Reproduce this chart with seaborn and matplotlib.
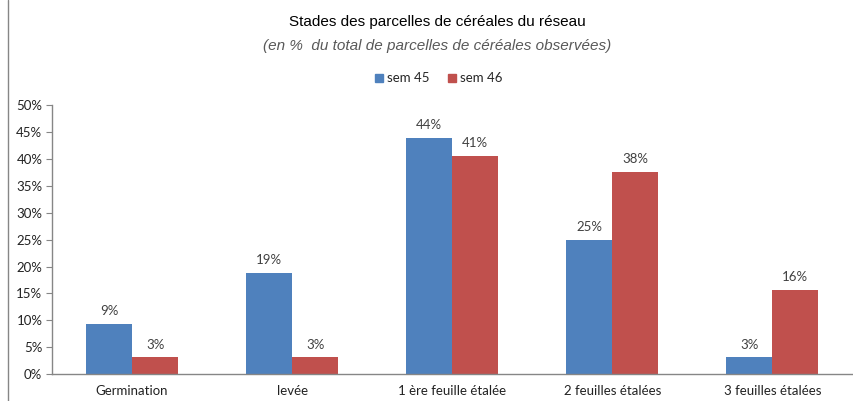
import pandas as pd
import matplotlib.pyplot as plt
import seaborn as sns
from matplotlib.lines import Line2D

# Data
stades = ['Germination', 'levée', '1 ère feuille étalée', '2 feuilles étalées', '3 feuilles étalées']
sem45 = [9.3, 18.8, 43.9, 24.9, 3.1]
sem46 = [3.1, 3.1, 40.6, 37.5, 15.6]
labels45 = ['9%', '19%', '44%', '25%', '3%']
labels46 = ['3%', '3%', '41%', '38%', '16%']
series = ['sem 45', 'sem 46']

df = pd.DataFrame({
    'stade': stades * 2,
    'valeur': sem45 + sem46,
    'semaine': [series[0]] * len(stades) + [series[1]] * len(stades),
})

sns.set_style('white')
plt.rcParams['font.family'] = ['Lato', 'DejaVu Sans']

fig = plt.figure(figsize=(8.54, 4.01), dpi=100)
ax = fig.add_axes([0.061, 0.067, 0.937, 0.671])

palette = {'sem 45': '#4F81BD', 'sem 46': '#C0504D'}
sns.barplot(data=df, x='stade', y='valeur', hue='semaine', palette=palette,
            width=0.575, gap=0, saturation=1, legend=False, linewidth=0, ax=ax)

# value labels
for cont, labs in zip(ax.containers, [labels45, labels46]):
    ax.bar_label(cont, labels=labs, padding=5, fontsize=9.5, color='#404040')

ax.set_ylim(0, 50)
ax.set_xlim(-0.5, 4.5)
ax.set_yticks(range(0, 51, 5))
ax.set_yticklabels([f'{v}%' for v in range(0, 51, 5)])
ax.set_xlabel('')
ax.set_ylabel('')

# ticks between categories
ax.set_xticks([i + 0.5 for i in range(len(stades) - 1)], minor=True)
ax.tick_params(axis='x', which='major', length=0, pad=8, labelsize=9.5, labelcolor='#222222')
ax.tick_params(axis='x', which='minor', length=4, color='#868686', direction='out')
ax.tick_params(axis='y', length=4, color='#868686', direction='out', pad=3,
               labelsize=9.5, labelcolor='#222222', left=True)

for side in ['top', 'right']:
    ax.spines[side].set_visible(False)
for side in ['left', 'bottom']:
    ax.spines[side].set_color('#868686')
    ax.spines[side].set_linewidth(1)

# title and subtitle
fig.text(0.512, 0.945, 'Stades des parcelles de céréales du réseau',
         ha='center', va='center', fontsize=11, color='#000000',
         family=['Liberation Sans', 'DejaVu Sans'])
fig.text(0.512, 0.885, '(en %  du total de parcelles de céréales observées)',
         ha='center', va='center', fontsize=11, style='italic', color='#595959',
         family=['Liberation Sans', 'DejaVu Sans'])

# legend
handles = [Line2D([], [], marker='s', linestyle='', markersize=6,
                  markerfacecolor=palette[s], markeredgecolor=palette[s]) for s in series]
fig.legend(handles, series, loc='center', bbox_to_anchor=(0.512, 0.805), ncol=2,
           frameon=False, fontsize=9.5, handletextpad=0.1, columnspacing=1.2,
           handlelength=1)

# left border line of the chart area
fig.add_artist(Line2D([0.0095, 0.0095], [0, 1], color='#868686', linewidth=1,
                      transform=fig.transFigure))

fig.savefig('out.png', dpi=100)
